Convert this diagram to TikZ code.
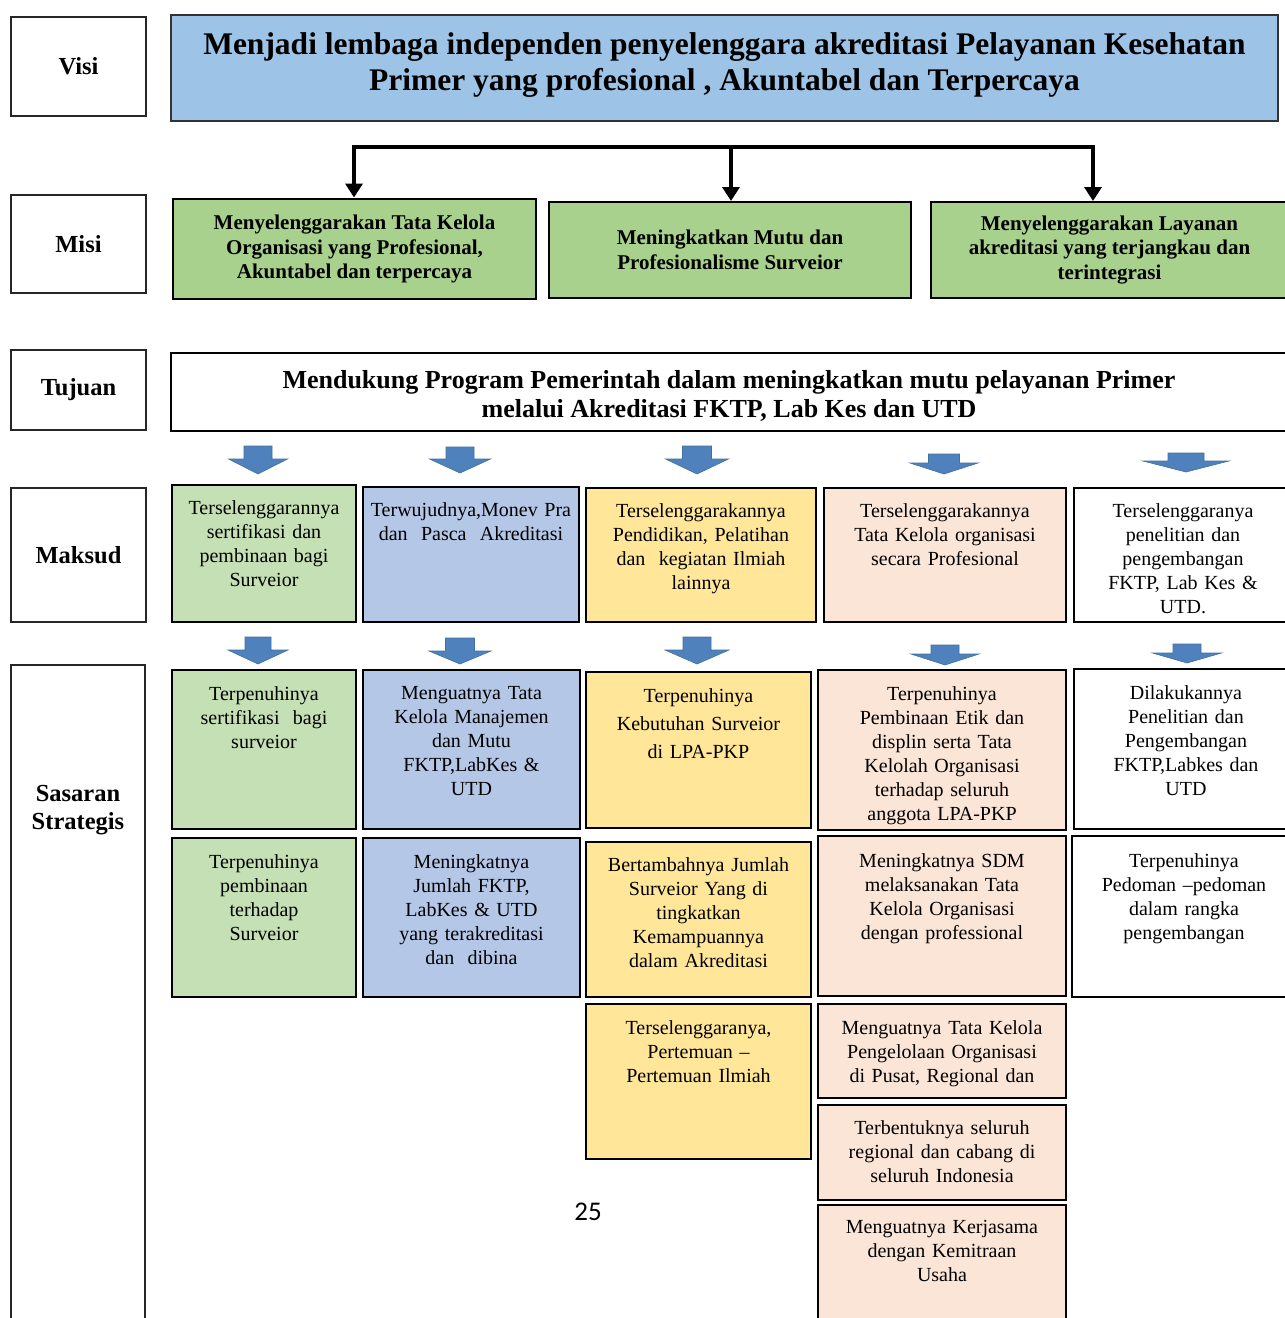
\documentclass[tikz,border=0pt]{standalone}
\usepackage{fontspec}
\setmainfont{Liberation Serif}
\newfontfamily\cellfont[WordSpace=0.8]{Liberation Serif}
\newfontfamily\numfont{Carlito}
\usetikzlibrary{arrows.meta}

\definecolor{visiblue}{HTML}{9DC3E6}
\definecolor{misigreen}{HTML}{A9D18E}
\definecolor{cgreen}{HTML}{C5E0B4}
\definecolor{cblue}{HTML}{B4C7E7}
\definecolor{cyellow}{HTML}{FFE699}
\definecolor{cpink}{HTML}{FBE5D6}
\definecolor{arrblue}{HTML}{4F81BD}
\definecolor{arredge}{HTML}{41719C}

% rectangle node from corners, text centred
\newcommand\rnode[7]{%
  \pgfmathsetmacro\rw{#5-#3}\pgfmathsetmacro\rh{#6-#4}%
  \node[#1, anchor=north west, minimum width=\rw pt, minimum height=\rh pt] (#2) at (#3,#4) {#7};}
% cell box with top-aligned text
\newcommand\cellbx[9]{%
  \pgfmathsetmacro\rw{#5-#3}\pgfmathsetmacro\rh{#6-#4}\pgfmathsetmacro\tw{#5-#3-6}%
  \node[cellbox, fill=#7, anchor=north west, minimum width=\rw pt, minimum height=\rh pt] (#2) at (#3,#4) {};
  \node[celltxt, #1, text width=\tw pt, anchor=north] (#2t) at ([yshift=-#8 pt]#2.north) {#9};}
% block arrow
\newcommand\blockarrow[6]{%
  \filldraw[fill=arrblue, draw=arredge, line width=0.6pt]
    (#1-#5/2,#2) -- (#1+#5/2,#2) -- (#1+#5/2,#3) -- (#1+#6/2,#3) -- (#1,#4)
    -- (#1-#6/2,#3) -- (#1-#5/2,#3) -- cycle;}

\begin{document}
\begin{tikzpicture}[x=1pt,y=-1pt,
  lab/.style={draw=black!85, line width=1.8pt, inner sep=0pt, outer sep=0pt, fill=white,
    font=\fontsize{24.5}{28}\selectfont\bfseries, align=center},
  visibox/.style={draw=black!80, line width=2pt, fill=visiblue, inner sep=0pt, outer sep=0pt,
    font=\fontsize{31.5}{36}\selectfont\bfseries, align=center},
  tujbox/.style={draw=black, line width=2.5pt, fill=white, inner sep=0pt, outer sep=0pt,
    font=\fontsize{26}{29.5}\selectfont\bfseries, align=center},
  misibox/.style={draw=black, line width=2.2pt, fill=misigreen, inner sep=0pt, outer sep=0pt,
    font=\fontsize{21}{24.5}\selectfont\bfseries, align=center},
  cellbox/.style={draw=black, line width=2.4pt, inner sep=0pt, outer sep=0pt},
  celltxt/.style={inner sep=0pt, align=center, font=\cellfont\fontsize{20}{24}\selectfont},
  wide/.style={font=\cellfont\fontsize{20}{28}\selectfont},
  plain/.style={},
  conn/.style={line width=4pt, -{Triangle[width=17pt,length=14pt]}},
]
\useasboundingbox (0,0) rectangle (1285,1318);
\clip (0,0) rectangle (1285,1318);
\fill[white] (0,0) rectangle (1285,1318);

% ---- Visi ----
\rnode{lab}{lvisi}{11}{17}{146}{116}{Visi}
\rnode{visibox}{visi}{171}{15}{1278}{121}{}
\node[font=\fontsize{31.5}{36}\selectfont\bfseries, align=center, inner sep=0pt] (visit)
  at ([yshift=3pt]visi.center) {Menjadi lembaga independen penyelenggara akreditasi Pelayanan Kesehatan\\
  Primer yang profesional , Akuntabel dan Terpercaya};

% ---- Misi ----
\rnode{lab}{lmisi}{11}{195}{146}{293}{Misi}
\rnode{misibox}{mi1}{173}{199}{536}{299}{Menyelenggarakan Tata Kelola\\Organisasi yang Profesional,\\Akuntabel dan terpercaya}
\rnode{misibox}{mi2}{549}{202}{911}{298}{Meningkatkan Mutu dan\\Profesionalisme Surveior}
\rnode{misibox}{mi3}{931}{202}{1288}{298}{Menyelenggarakan Layanan\\akreditasi yang terjangkau dan\\terintegrasi}

\coordinate (barL) at (354,147);
\coordinate (barM) at (731,147);
\coordinate (barR) at (1093,147);
\draw[line width=4pt, {Triangle[width=17pt,length=14pt]}-{Triangle[width=17pt,length=14pt]}]
  ([yshift=1.5pt]mi1.north -| barL) -- (barL) -- (barR) -- ([yshift=1pt]mi3.north -| barR);
\draw[conn] (barM) -- ([yshift=1pt]mi2.north -| barM);

% ---- Tujuan ----
\rnode{lab}{ltuj}{11}{350}{146}{430}{Tujuan}
\rnode{tujbox}{tuj}{171}{353}{1287}{431}{}
\node[font=\fontsize{26}{29.5}\selectfont\bfseries, align=center, inner sep=0pt] (tujt)
  at ([yshift=-4pt]tuj.center) {Mendukung Program Pemerintah dalam meningkatkan mutu pelayanan Primer\\melalui Akreditasi FKTP, Lab Kes dan UTD};

% arrows Tujuan -> Maksud
\blockarrow{258}{446}{459}{474}{28}{59}
\blockarrow{460}{447}{459}{473}{28}{61}
\blockarrow{697}{446}{459}{474}{29}{63}
\blockarrow{944}{454}{463}{474}{31}{68}
\blockarrow{1186}{453}{461}{472}{36}{86}

% ---- Maksud ----
\rnode{lab}{lmak}{11}{488}{146}{622}{Maksud}
\cellbx{plain}{m1}{172}{485}{356}{622}{cgreen}{15}{Terselenggarannya\\sertifikasi dan\\pembinaan bagi\\Surveior}
\cellbx{plain}{m2}{363}{487}{579}{622}{cblue}{15}{Terwujudnya,Monev Pra\\dan~~Pasca~~Akreditasi}
\cellbx{plain}{m3}{586}{488}{816}{622}{cyellow}{15}{Terselenggarakannya\\Pendidikan, Pelatihan\\dan~ kegiatan Ilmiah\\lainnya}
\cellbx{plain}{m4}{824}{488}{1066}{622}{cpink}{15}{Terselenggarakannya\\Tata Kelola organisasi\\secara Profesional}
\cellbx{plain}{m5}{1074}{488}{1292}{622}{white}{15}{Terselenggaranya\\penelitian dan\\pengembangan\\FKTP, Lab Kes \&\\UTD.}

% arrows Maksud -> Sasaran
\blockarrow{258}{637}{650}{664}{26}{60}
\blockarrow{460}{638}{651}{664}{29}{62}
\blockarrow{697}{637}{650}{664}{28}{64}
\blockarrow{945}{645}{654}{665}{28}{68}
\blockarrow{1187}{644}{653}{663}{28}{69}

% ---- Sasaran Strategis ----
\rnode{lab}{lsas}{11}{665}{145}{1322}{}
\node[font=\fontsize{24.5}{28}\selectfont\bfseries, align=center, inner sep=0pt] (lsast)
  at (78,810) {Sasaran\\Strategis};

\cellbx{plain}{s11}{172}{670}{356}{829}{cgreen}{16}{Terpenuhinya\\sertifikasi~ bagi\\surveior}
\cellbx{plain}{s12}{363}{670}{580}{829}{cblue}{16}{Menguatnya Tata\\Kelola Manajemen\\dan Mutu\\FKTP,LabKes \&\\UTD}
\cellbx{wide}{s13}{586}{672}{811}{828}{cyellow}{16}{Terpenuhinya\\Kebutuhan Surveior\\di LPA-PKP}
\cellbx{plain}{s14}{818}{670}{1066}{830}{cpink}{16}{Terpenuhinya\\Pembinaan Etik dan\\displin serta Tata\\Kelolah Organisasi\\terhadap seluruh\\anggota LPA-PKP}
\cellbx{plain}{s15}{1074}{669}{1298}{829}{white}{16}{Dilakukannya\\Penelitian dan\\Pengembangan\\FKTP,Labkes dan\\UTD}

\cellbx{plain}{s21}{172}{838}{356}{997}{cgreen}{16}{Terpenuhinya\\pembinaan\\terhadap\\Surveior}
\cellbx{plain}{s22}{363}{838}{580}{997}{cblue}{16}{Meningkatnya\\Jumlah FKTP,\\LabKes \& UTD\\yang terakreditasi\\dan~ dibina}
\cellbx{plain}{s23}{586}{842}{811}{997}{cyellow}{15}{Bertambahnya Jumlah\\Surveior Yang di\\tingkatkan\\Kemampuannya\\dalam Akreditasi}
\cellbx{plain}{s24}{818}{836}{1066}{996}{cpink}{17}{Meningkatnya SDM\\melaksanakan Tata\\Kelola Organisasi\\dengan professional}
\cellbx{plain}{s25}{1072}{836}{1296}{997}{white}{17}{Terpenuhinya\\Pedoman –pedoman\\dalam rangka\\pengembangan}

\cellbx{plain}{s33}{586}{1004}{811}{1159}{cyellow}{16}{Terselenggaranya,\\Pertemuan –\\Pertemuan Ilmiah}
\cellbx{plain}{s34a}{818}{1004}{1066}{1098}{cpink}{16}{Menguatnya Tata Kelola\\Pengelolaan Organisasi\\di Pusat, Regional dan}
\cellbx{plain}{s34b}{818}{1105}{1066}{1200}{cpink}{15}{Terbentuknya seluruh\\regional dan cabang di\\seluruh Indonesia}
\cellbx{plain}{s34c}{818}{1205}{1066}{1330}{cpink}{15}{Menguatnya Kerjasama\\dengan Kemitraan\\Usaha}

% page number
\node[font=\numfont\fontsize{27}{30}\selectfont, inner sep=0pt] (pagenum) at (588,1212) {25};
\end{tikzpicture}
\end{document}
